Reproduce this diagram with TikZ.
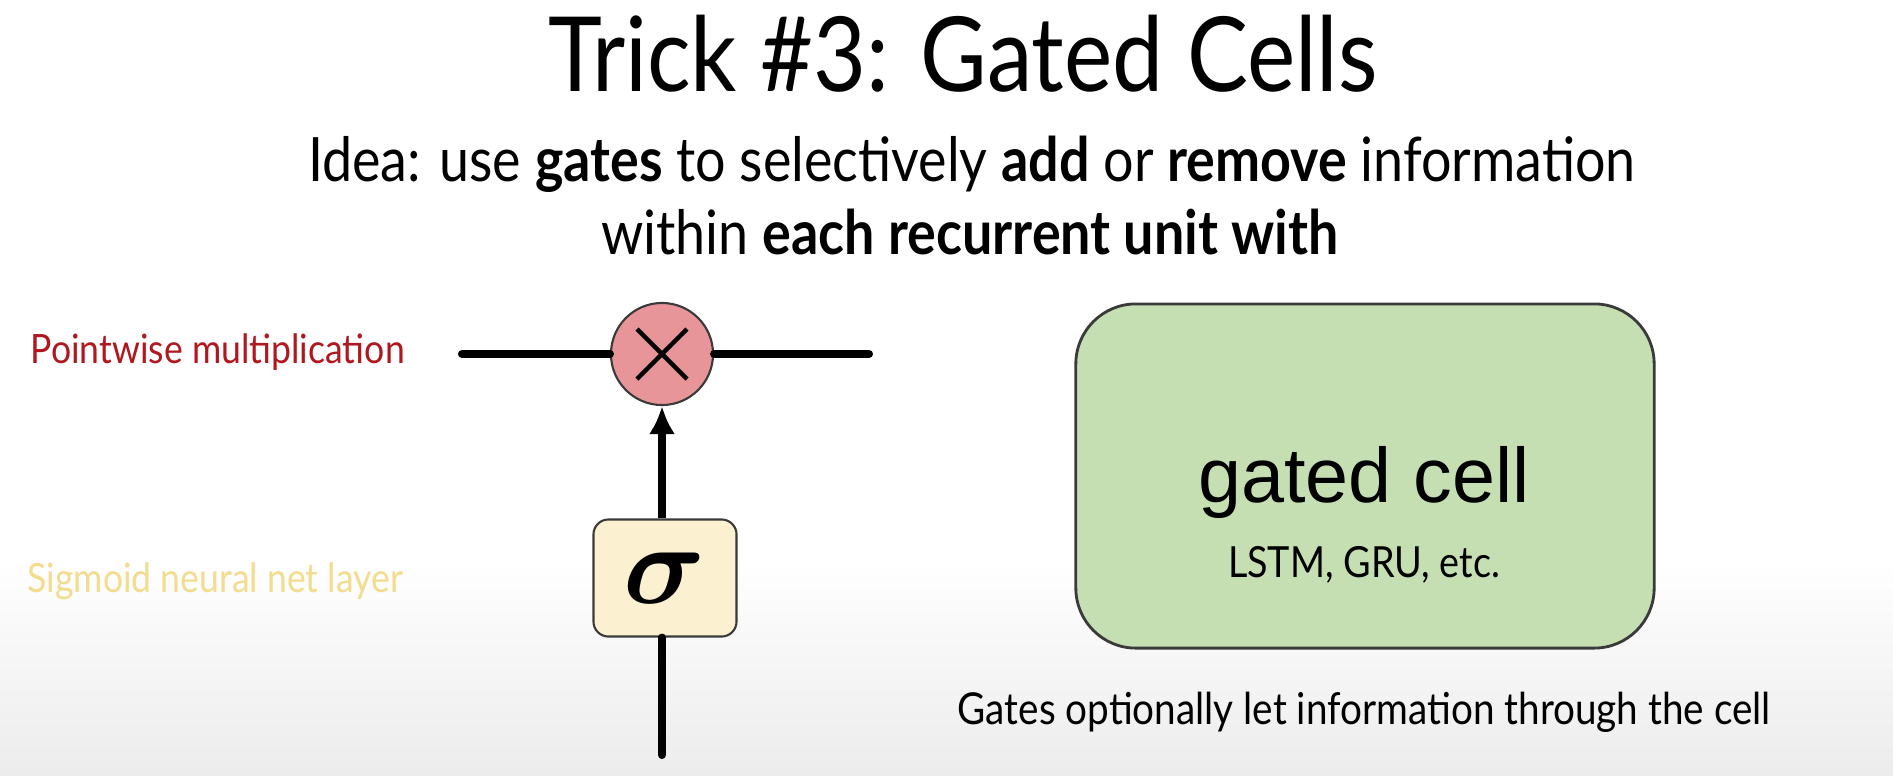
\documentclass[tikz,border=0pt]{standalone}
\usepackage{amsmath,amssymb}
\usepackage{fontspec}
\setmainfont[FakeStretch=0.88]{Lato}
\newfontfamily\helvfont{Liberation Sans}
\usepackage{xcolor}
\usepackage{tikz}
\usetikzlibrary{arrows.meta,positioning,calc}

\definecolor{pointred}{HTML}{B01820}
\definecolor{sigyellow}{HTML}{F3DC8E}
\definecolor{multpink}{HTML}{E8959A}
\definecolor{sigfill}{HTML}{FBF1D0}
\definecolor{cellgreen}{HTML}{C5DFB3}
\definecolor{edgegray}{HTML}{3A3A3A}
\definecolor{bggray}{HTML}{EBECEB}

\begin{document}
\begin{tikzpicture}[x=0.01cm,y=-0.01cm,
		txt/.style={inner sep=0pt, anchor=base},
		flow/.style={line width=2.3pt, line cap=round, black},
		gatebox/.style={draw=edgegray, line width=0.6pt}]
		\useasboundingbox (0,0) rectangle (1893,775);
		\fill[white] (0,0) rectangle (1893,775);
		\shade[top color=white, bottom color=bggray] (0,560) rectangle (1893,775);

		% title and idea text
		\node[txt] (title) at (963,91) {\fontsize{29.5}{32}\selectfont Trick \#3: Gated Cells};
		\node[txt] (idea1) at (972,181) {\fontsize{17.4}{20}\selectfont Idea: use \textbf{gates} to selectively \textbf{add} or \textbf{remove} information};
		\node[txt] (idea2) at (970,254) {\fontsize{17.4}{20}\selectfont within \textbf{each recurrent unit with}};

		% gate on the left
		\node[gatebox, circle, fill=multpink, minimum size=1.02cm, inner sep=0pt] (mult) at (662,354) {};
		\draw[line width=1.3pt] ($(mult.center)+(-25,-25)$) -- ($(mult.center)+(25,25)$);
		\draw[line width=1.3pt] ($(mult.center)+(-25,25)$) -- ($(mult.center)+(25,-25)$);
		\node[gatebox, fill=sigfill, rounded corners=0.15cm, minimum width=1.43cm, minimum height=1.17cm] (sig) at (665,578)
			{\scalebox{1.3}{\fontsize{24.88}{25}\selectfont$\boldsymbol{\sigma}$}};

		\coordinate (lin) at (462,354);
		\coordinate (lout) at (869,354);
		\coordinate (sigin) at (662,755);
		\draw[flow] (lin) -- (mult.west);
		\draw[flow] (mult.east) -- (lout);
		\draw[flow] (sigin) -- (sig.south -| sigin);
		\draw[flow, line cap=butt, -{Latex[length=8pt, width=7.5pt]}] (sig.north -| mult) -- (mult.south);

		\node[txt, anchor=base west, text=pointred] (pwlabel) at (30,363) {\fontsize{11.5}{13}\selectfont Pointwise multiplication};
		\node[txt, anchor=base west, text=sigyellow] (siglabel) at (27,592) {\fontsize{11.5}{13}\selectfont Sigmoid neural net layer};

		% gated cell box
		\node[draw=edgegray, line width=0.8pt, fill=cellgreen, rounded corners=0.6cm, minimum width=5.78cm, minimum height=3.44cm] (cell) at (1365,476) {};
		\node[txt] (celltxt) at (1364,502) {\helvfont\fontsize{22}{24}\selectfont gated cell};
		\node[txt] (cellsub) at (1364,577) {\fontsize{12.2}{14}\selectfont LSTM, GRU, etc.};

		\node[txt, anchor=base west] (gatenote) at (957,724) {\fontsize{12.5}{14}\selectfont Gates optionally let information through the cell};
	\end{tikzpicture}
\end{document}
